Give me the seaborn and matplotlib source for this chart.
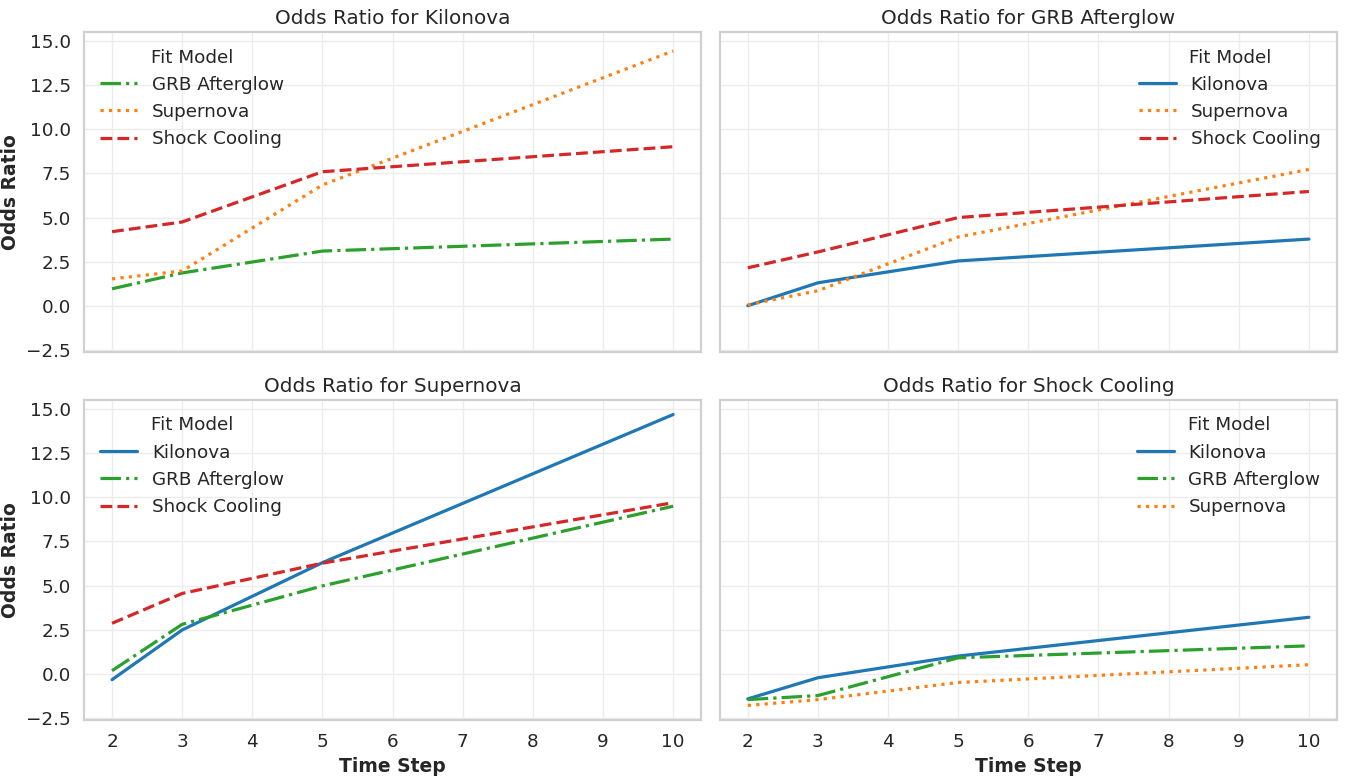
import matplotlib
matplotlib.use('Agg')
import matplotlib.pyplot as plt
import seaborn as sns
import pandas as pd

# time steps sampled
time_steps = [2, 3, 5, 10]

# model order and styling
models = ['Kilonova', 'GRB Afterglow', 'Supernova', 'Shock Cooling']

# odds ratio values, one list per (target panel, fit model)
kilonova_vs_grb = [0.96, 1.86, 3.10, 3.78]
kilonova_vs_sn = [1.52, 1.97, 6.85, 14.45]
kilonova_vs_shock = [4.20, 4.75, 7.60, 9.02]

grb_vs_kilonova = [0.0, 1.30, 2.54, 3.78]
grb_vs_sn = [0.05, 0.85, 3.90, 7.73]
grb_vs_shock = [2.15, 3.05, 5.00, 6.48]

sn_vs_kilonova = [-0.34, 2.48, 6.30, 14.70]
sn_vs_grb = [0.17, 2.80, 4.98, 9.50]
sn_vs_shock = [2.86, 4.55, 6.27, 9.70]

shock_vs_kilonova = [-1.43, -0.23, 1.00, 3.20]
shock_vs_grb = [-1.47, -1.24, 0.90, 1.58]
shock_vs_sn = [-1.80, -1.47, -0.50, 0.51]

panel_data = {
    'Kilonova': {'GRB Afterglow': kilonova_vs_grb, 'Supernova': kilonova_vs_sn,
                 'Shock Cooling': kilonova_vs_shock},
    'GRB Afterglow': {'Kilonova': grb_vs_kilonova, 'Supernova': grb_vs_sn,
                      'Shock Cooling': grb_vs_shock},
    'Supernova': {'Kilonova': sn_vs_kilonova, 'GRB Afterglow': sn_vs_grb,
                  'Shock Cooling': sn_vs_shock},
    'Shock Cooling': {'Kilonova': shock_vs_kilonova, 'GRB Afterglow': shock_vs_grb,
                      'Supernova': shock_vs_sn},
}

palette = {'Kilonova': '#1f77b4', 'GRB Afterglow': '#2ca02c',
           'Supernova': '#ff7f0e', 'Shock Cooling': '#d62728'}
dashes = {'Kilonova': '', 'GRB Afterglow': (6.4, 1.6, 1, 1.6),
          'Supernova': (1, 1.65), 'Shock Cooling': (3.7, 1.6)}

sns.set_theme(style='whitegrid', font_scale=1.2,
              rc={'grid.color': '#ececec', 'axes.edgecolor': '#d0d0d0',
                  'axes.linewidth': 1.6})

fig, axes = plt.subplots(2, 2, figsize=(13.48, 7.77), dpi=100, sharex=True, sharey=True)

for ax, target in zip(axes.flat, models):
    rows = []
    for fit in models:
        if fit == target:
            continue
        for t, v in zip(time_steps, panel_data[target][fit]):
            rows.append({'Time Step': t, 'Odds Ratio': v, 'Fit Model': fit})
    df = pd.DataFrame(rows)
    order = [m for m in models if m != target]
    sns.lineplot(data=df, x='Time Step', y='Odds Ratio', hue='Fit Model', style='Fit Model',
                 hue_order=order, style_order=order, palette=palette, dashes=dashes,
                 linewidth=2.3, ax=ax)
    ax.set_title(f'Odds Ratio for {target}', fontsize=14.4)
    ax.legend(title='Fit Model', frameon=False, loc='best', fontsize=13.2, title_fontsize=13.2)
    ax.set_xlabel('Time Step', fontweight='bold', fontsize=13.5)
    ax.set_ylabel('Odds Ratio', fontweight='bold', fontsize=13.5)
    ax.set_xticks(range(2, 11))
    ax.tick_params(labelsize=13.2)

for ax in axes[0]:
    ax.set_xlabel('')
for ax in axes[:, 1]:
    ax.set_ylabel('')

fig.subplots_adjust(left=0.0623, right=0.9918, top=0.9588, bottom=0.0734,
                    wspace=0.03, hspace=0.15)
plt.savefig('out.png', dpi=100)
